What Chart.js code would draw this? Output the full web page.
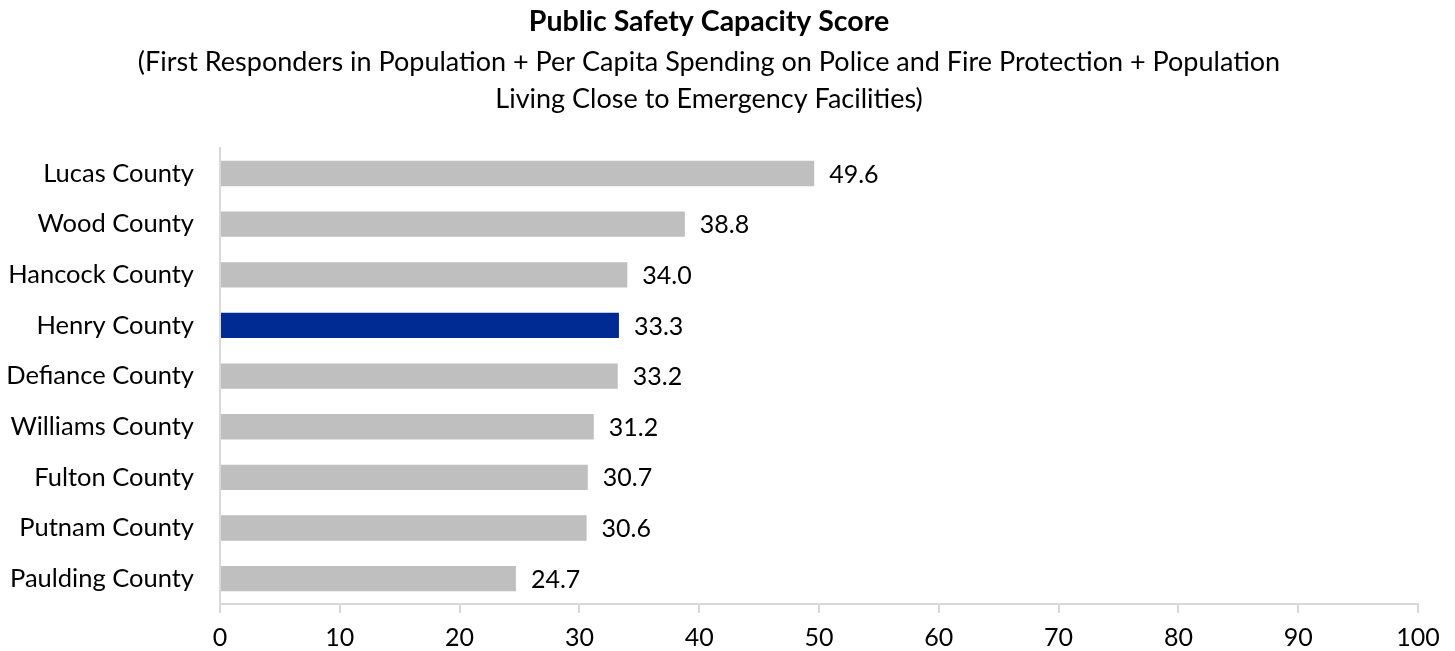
<!DOCTYPE html>
<html>
<head>
<meta charset="utf-8">
<title>Public Safety Capacity Score</title>
<script src="https://cdn.jsdelivr.net/npm/chart.js@4/dist/chart.umd.min.js"></script>
<style>
  body { margin: 0; background: #fff; }
  #wrap { width: 1455px; height: 651px; }
</style>
</head>
<body>
<div id="wrap"><canvas id="myChart"></canvas></div>
<script>
// chart data
let counties = ["Lucas County", "Wood County", "Hancock County", "Henry County", "Defiance County",
  "Williams County", "Fulton County", "Putnam County", "Paulding County"];
let scores = [49.6, 38.8, 34.0, 33.3, 33.2, 31.2, 30.7, 30.6, 24.7];
let highlight = "Henry County";
let xTicks = [0, 10, 20, 30, 40, 50, 60, 70, 80, 90, 100];

let fontName = "Lato, 'Liberation Sans', sans-serif";
Chart.defaults.color = "#000";
Chart.defaults.font.family = fontName;

// bar colours: the home county is blue, the rest grey
let barColors = [];
for (let i = 0; i < counties.length; i++) {
  barColors.push(counties[i] === highlight ? "#002B93" : "#BFBFBF");
}

// writes the score just to the right of each bar
const valueLabels = {
  id: "valueLabels",
  afterDatasetsDraw(chart) {
    let ctx = chart.ctx;
    let meta = chart.getDatasetMeta(0);
    ctx.save();
    ctx.font = "25px " + fontName;
    ctx.fillStyle = "#000";
    ctx.textBaseline = "middle";
    ctx.textAlign = "left";
    meta.data.forEach(function (bar, i) {
      ctx.fillText(scores[i].toFixed(1), bar.x + 15, bar.y + 1);
    });
    ctx.restore();
  },
};

const data = {
  labels: counties,
  datasets: [
    {
      data: scores,
      backgroundColor: barColors,
      barPercentage: 0.5,
      categoryPercentage: 1.0,
    },
  ],
};

const config = {
  type: "bar",
  data: data,
  options: {
    indexAxis: "y",
    responsive: true,
    maintainAspectRatio: false,
    animation: false,
    layout: { padding: { left: 0, right: 37, top: 0, bottom: 0 } },
    plugins: {
      legend: { display: false },
      tooltip: { enabled: false },
      title: {
        display: true,
        text: "Public Safety Capacity Score",
        font: { size: 28.5, weight: "bold", lineHeight: 1.2 },
        padding: { top: 5, bottom: 5 },
      },
      subtitle: {
        display: true,
        text: [
          "(First Responders in Population + Per Capita Spending on Police and Fire Protection + Population",
          "Living Close to Emergency Facilities)",
        ],
        font: { size: 27, lineHeight: 1.37 },
        padding: { top: 0, bottom: 30 },
      },
    },
    scales: {
      x: {
        min: 0,
        max: 100,
        afterBuildTicks: function (axis) {
          axis.ticks = xTicks.map(function (v) { return { value: v }; });
        },
        afterFit: function (axis) {
          axis.height = 47;
        },
        grid: {
          drawOnChartArea: false,
          drawTicks: true,
          tickLength: 9,
          color: "#D9D9D9",
          lineWidth: 2,
        },
        border: { display: true, color: "#D9D9D9", width: 2 },
        ticks: { font: { size: 25 }, padding: 10 },
      },
      y: {
        grid: { display: false },
        border: { display: true, color: "#D9D9D9", width: 2 },
        ticks: { font: { size: 25.5 }, padding: 18 },
        afterFit: function (axis) {
          axis.width = 220;
        },
      },
    },
  },
  plugins: [valueLabels],
};

let canvasChart = document.getElementById("myChart").getContext("2d");
const myChart = new Chart(canvasChart, config);
</script>
</body>
</html>
